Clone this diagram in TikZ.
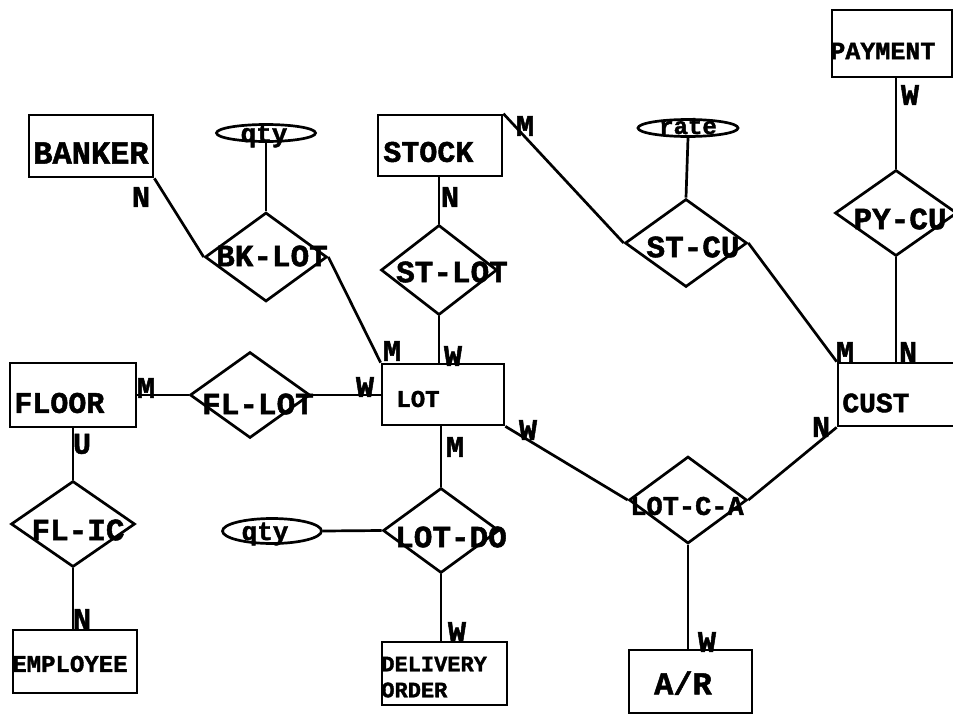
\documentclass[tikz,border=0pt]{standalone}
\usepackage{fontspec}
\newfontfamily\dotf{Liberation Mono}[BoldFeatures={FakeBold=1.6}]
\usetikzlibrary{shapes.geometric}
\begin{document}
\begin{tikzpicture}[x=1pt,y=-1pt,line width=2.7pt,
  box/.style={draw,rectangle,inner sep=0pt},
  rel/.style={draw,diamond,inner sep=0pt},
  attr/.style={draw,ellipse,inner sep=0pt},
  txt/.style={inner sep=0pt,font=\dotf\bfseries\fontsize{31}{31}\selectfont},
  stxt/.style={inner sep=0pt,font=\dotf\bfseries\fontsize{24}{24}\selectfont},
  card/.style={inner sep=0pt,font=\dotf\bfseries\fontsize{30}{30}\selectfont}]
\useasboundingbox (0,0) rectangle (953,715);
\fill[white] (0,0) rectangle (953,715);

% entities
\node[box,minimum width=124pt,minimum height=62pt] (banker) at (91,146) {};
\node[box,minimum width=124pt,minimum height=61pt] (stock) at (440,145.5) {};
\node[box,minimum width=120pt,minimum height=67pt] (payment) at (892,43.5) {};
\node[box,minimum width=122pt,minimum height=61pt] (lot) at (443,394.5) {};
\node[box,minimum width=126pt,minimum height=64pt] (floor) at (73,395) {};
\node[box,minimum width=127pt,minimum height=63pt] (cust) at (901.5,394.5) {};
\node[box,minimum width=124pt,minimum height=63pt] (emp) at (75,661.5) {};
\node[box,minimum width=125pt,minimum height=63pt] (dorder) at (444.5,673.5) {};
\node[box,minimum width=123pt,minimum height=63pt] (ar) at (690.5,681.5) {};

% relationships
\node[rel,minimum width=122pt,minimum height=89pt] (bklot) at (266,257) {};
\node[rel,minimum width=116pt,minimum height=90pt] (stlot) at (439,270) {};
\node[rel,minimum width=122pt,minimum height=88pt] (stcu) at (686,243) {};
\node[rel,minimum width=122pt,minimum height=86pt] (pycu) at (896,213) {};
\node[rel,minimum width=120pt,minimum height=86pt] (fllot) at (250,395) {};
\node[rel,minimum width=124pt,minimum height=86pt] (flic) at (73,524) {};
\node[rel,minimum width=116pt,minimum height=85pt] (lotdo) at (441,530.5) {};
\node[rel,minimum width=118pt,minimum height=87pt] (lotca) at (688,500) {};

% attributes
\node[attr,minimum width=99pt,minimum height=17pt] (qtya) at (266,133) {};
\node[attr,minimum width=100pt,minimum height=17pt] (rate) at (688,128) {};
\node[attr,minimum width=99pt,minimum height=25pt] (qtyb) at (272,531) {};

% texts
\node[txt,anchor=west,font=\dotf\bfseries\fontsize{32}{32}\selectfont] (tbanker) at (32,153) {BANKER};
\node[txt,anchor=west,font=\dotf\bfseries\fontsize{30}{30}\selectfont] (tstock) at (382,152) {STOCK};
\node[stxt,anchor=west,font=\dotf\bfseries\fontsize{25}{25}\selectfont] (tpayment) at (829,51) {PAYMENT};
\node[stxt,anchor=center] (tlot) at (418,399) {LOT};
\node[txt,anchor=west,font=\dotf\bfseries\fontsize{30}{30}\selectfont] (tfloor) at (13,403) {FLOOR};
\node[txt,anchor=west,font=\dotf\bfseries\fontsize{28}{28}\selectfont] (tcust) at (841,403) {CUST};
\node[stxt,anchor=west] (temp) at (11,664) {EMPLOYEE};
\node[stxt,anchor=west,font=\dotf\bfseries\fontsize{22}{22}\selectfont] (tdel) at (380,664) {DELIVERY};
\node[stxt,anchor=west,font=\dotf\bfseries\fontsize{22}{22}\selectfont] (tord) at (380,690) {ORDER};
\node[txt,anchor=center,font=\dotf\bfseries\fontsize{32}{32}\selectfont] (tar) at (683,683) {A/R};

\node[txt] (tbklot) at (272,256) {BK-LOT};
\node[txt] (tstlot) at (452,272) {ST-LOT};
\node[txt] (tstcu) at (693,247) {ST-CU};
\node[txt] (tpycu) at (900,219) {PY-CU};
\node[txt] (tfllot) at (258,404) {FL-LOT};
\node[txt] (tflic) at (78,530) {FL-IC};
\node[txt] (tlotdo) at (451,537) {LOT-DO};
\node[stxt,font=\dotf\bfseries\fontsize{27}{27}\selectfont] (tlotca) at (687,506) {LOT-C-A};

\node[stxt,anchor=base,font=\dotf\bfseries\fontsize{26}{26}\selectfont] (tqtya) at (264,142) {qty};
\node[stxt,anchor=base] (trate) at (688,134) {rate};
\node[stxt,anchor=base,font=\dotf\bfseries\fontsize{26}{26}\selectfont] (tqtyb) at (265,540) {qty};

% connectors
\draw (banker.south east) -- (bklot.west);
\draw (qtya.south) -- (bklot.north);
\draw (bklot.east) -- (lot.north west);
\draw (stock.south -| stlot.north) -- (stlot.north);
\draw (stlot.south) -- (stlot.south |- lot.north);
\draw (stock.north east) -- (stcu.west);
\draw (rate.south) -- (stcu.north);
\draw (stcu.east) -- (cust.north west);
\draw (pycu.north |- payment.south) -- (pycu.north);
\draw (pycu.south) -- (pycu.south |- cust.north);
\draw (floor.east |- fllot.west) -- (fllot.west);
\draw (fllot.east) -- (fllot.east -| lot.west);
\draw (floor.south -| flic.north) -- (flic.north);
\draw (flic.south) -- (flic.south |- emp.north);
\draw (lotdo.north |- lot.south) -- (lotdo.north);
\draw (qtyb.east) -- (lotdo.west);
\draw (lotdo.south) -- (lotdo.south |- dorder.north);
\draw (lot.south east) -- (lotca.west);
\draw (lotca.east) -- (cust.south west);
\draw (lotca.south) -- (lotca.south |- ar.north);

% cardinalities
\node[card] (c1) at (141,197) {N};
\node[card] (c2) at (392,351) {M};
\node[card] (c3) at (453,356) {W};
\node[card] (c4) at (450,197) {N};
\node[card] (c5) at (525,126) {M};
\node[card] (c6) at (845,352) {M};
\node[card] (c7) at (908,352) {N};
\node[card] (c8) at (910,95) {W};
\node[card] (c9) at (821,427) {N};
\node[card] (c10) at (528,430) {W};
\node[card] (c11) at (455,447) {M};
\node[card] (c12) at (457,632) {W};
\node[card] (c13) at (707,642) {W};
\node[card] (c14) at (146,388) {M};
\node[card] (c15) at (365,387) {W};
\node[card] (c16) at (82,444) {U};
\node[card] (c17) at (82,619) {N};
\end{tikzpicture}
\end{document}
